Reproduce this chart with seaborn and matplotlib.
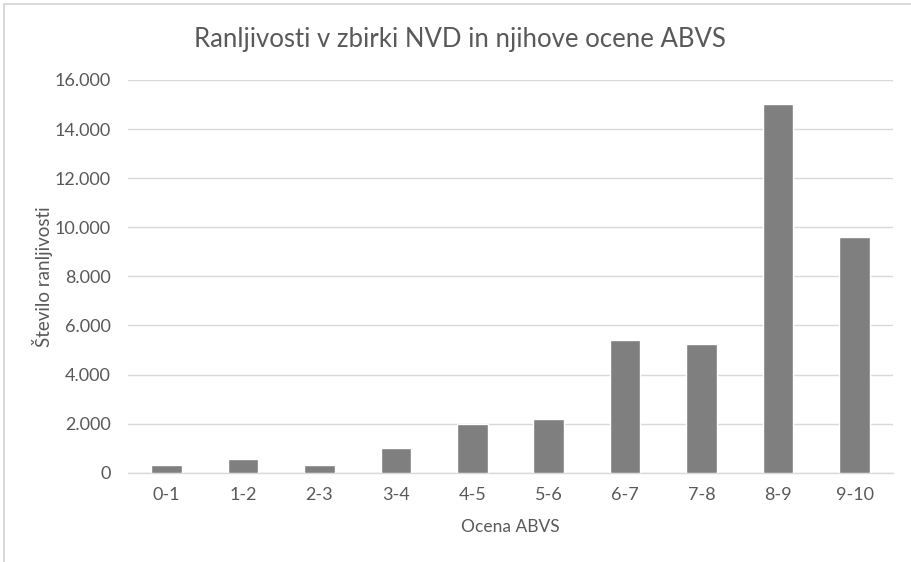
"""
Ranljivosti v zbirki NVD po ocenah ABVS
=======================================
Simple bar chart of vulnerability counts per score bucket.
"""

import numpy as np
import pandas as pd
import seaborn as sns
import matplotlib.pyplot as plt
from matplotlib.ticker import FuncFormatter
from matplotlib.lines import Line2D

# ---------------------------------------------------------------------------
# 1. Data
# ---------------------------------------------------------------------------
score_buckets = ["0-1", "1-2", "2-3", "3-4", "4-5", "5-6", "6-7", "7-8", "8-9", "9-10"]
vuln_counts = [310, 560, 310, 990, 2000, 2180, 5410, 5250, 15040, 9600]
y_ticks = [0, 2000, 4000, 6000, 8000, 10000, 12000, 14000, 16000]

df = pd.DataFrame({"ocena": score_buckets, "stevilo": vuln_counts})

# ---------------------------------------------------------------------------
# 2. Style
# ---------------------------------------------------------------------------
sns.set_theme(style="white")
plt.rcParams["font.family"] = ["Lato", "DejaVu Sans"]
text_color = "#595959"
grid_color = "#d9d9d9"
bar_color = "#7f7f7f"

fig = plt.figure(figsize=(9.11, 5.62), dpi=100)
ax = fig.add_axes([0.1408, 0.1589, 0.8392, 0.6988])

# ---------------------------------------------------------------------------
# 3. Plot
# ---------------------------------------------------------------------------
sns.barplot(data=df, x="ocena", y="stevilo", color=bar_color, width=0.4,
            saturation=1, ax=ax, zorder=3)

ax.set_xlim(-0.5, len(score_buckets) - 0.5)
ax.set_ylim(0, 16000)
ax.set_yticks(y_ticks)
ax.yaxis.set_major_formatter(FuncFormatter(lambda v, p: f"{int(v):,}".replace(",", ".")))
ax.grid(axis="y", color=grid_color, linewidth=1, zorder=0)

for side in ["top", "right", "left"]:
    ax.spines[side].set_visible(False)
ax.spines["bottom"].set_color(grid_color)
ax.spines["bottom"].set_linewidth(1)

ax.tick_params(axis="both", length=0, labelsize=13, colors=text_color)
ax.tick_params(axis="y", pad=12.5)
ax.tick_params(axis="x", pad=10)

fig.text(0.505, 0.9306, "Ranljivosti v zbirki NVD in njihove ocene ABVS",
         fontsize=18.5, color=text_color, ha="center", va="center")
ax.set_xlabel("Ocena ABVS", fontsize=12.5, color=text_color, labelpad=12)
ax.set_ylabel("Število ranljivosti", fontsize=13.5, color=text_color)
ax.yaxis.set_label_coords(-0.0985, 0.5)

# light border on the left and top of the chart area
fig.lines.append(Line2D([0.0045, 0.0045], [0, 0.992], transform=fig.transFigure,
                        color="#d9d9d9", linewidth=1.5))
fig.lines.append(Line2D([0.0045, 1], [0.992, 0.992], transform=fig.transFigure,
                        color="#d9d9d9", linewidth=1.5))

plt.savefig("out.png", dpi=100)
